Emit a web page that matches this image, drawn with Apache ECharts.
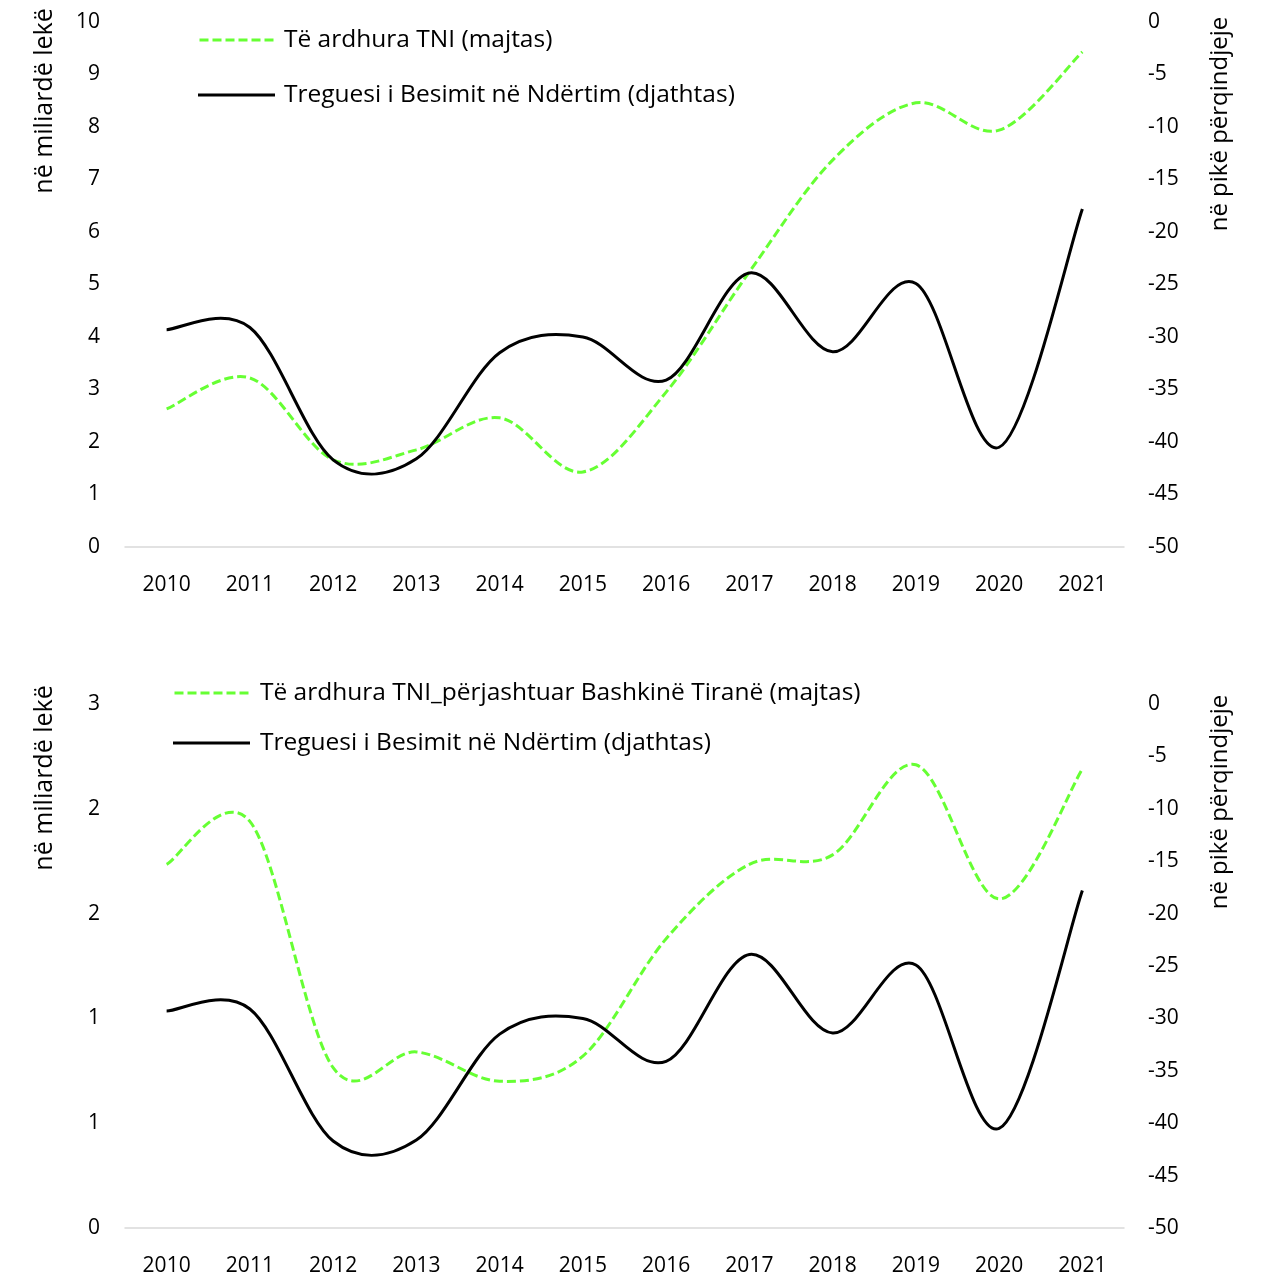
<!DOCTYPE html>
<html>
<head>
<meta charset="utf-8">
<script src="https://cdn.jsdelivr.net/npm/echarts@6/dist/echarts.min.js"></script>
<style>html,body{margin:0;padding:0;background:#fff;}#c{width:1264px;height:1279px;}</style>
</head>
<body>
<div id="c"></div>
<script>
const years = ['2010','2011','2012','2013','2014','2015','2016','2017','2018','2019','2020','2021'];
const tniTotal = [2.63, 3.22, 1.66, 1.85, 2.46, 1.43, 2.95, 5.24, 7.37, 8.46, 7.94, 9.43];
const tniExTirana = [1.735, 1.94, 0.765, 0.84, 0.70, 0.82, 1.38, 1.735, 1.78, 2.21, 1.57, 2.19];
const tbn = [-29.3, -29.1, -41.7, -41.6, -31.5, -30.0, -34.1, -23.9, -31.4, -24.9, -40.5, -17.8];
const nameTotal = 'Të ardhura TNI (majtas)';
const nameEx = 'Të ardhura TNI_përjashtuar Bashkinë Tiranë (majtas)';
const nameTbn = 'Treguesi i Besimit në Ndërtim (djathtas)';
const leftTitle = 'në miliardë lekë';
const rightTitle = 'në pikë përqindjeje';

const FONT = '"Open Sans"';
const GREEN = '#66ff33';
const chart = echarts.init(document.getElementById('c'));
const lbl = {color:'#000', fontSize:21, fontFamily:FONT};
function xAxis(gi){return {type:'category', gridIndex:gi, data:years, boundaryGap:true,
  axisLine:{lineStyle:{color:'#d9d9d9', width:1.5}}, axisTick:{show:false},
  axisLabel:Object.assign({margin:28}, lbl)};}
function yAxisL(gi,max,interval,fmt){return {type:'value', gridIndex:gi, min:0, max:max, interval:interval,
  position:'left', splitLine:{show:false}, axisLine:{show:false}, axisTick:{show:false},
  axisLabel:Object.assign({margin:25, formatter:fmt}, lbl)};}
function yAxisR(gi){return {type:'value', gridIndex:gi, min:-50, max:0, interval:5, position:'right',
  splitLine:{show:false}, axisLine:{show:false}, axisTick:{show:false},
  axisLabel:Object.assign({margin:24}, lbl)};}

// Catmull-Rom style spline through the data points, mapped via the axes (api.coord)
function splineSeries(name, arr, xi, yi, color, dash, z){
  return {
    name:name, type:'custom', xAxisIndex:xi, yAxisIndex:yi, z:z,
    itemStyle:{color:color},
    data:arr.map((v,i)=>[i, v]), encode:{x:0, y:1},
    renderItem:function(params, api){
      if (params.dataIndex !== 0) return null;
      const p = arr.map((v,i)=>api.coord([i, v]));
      const n = p.length, k = 1/6;
      let d = 'M' + p[0][0] + ' ' + p[0][1];
      for (let i=0;i<n-1;i++){
        const p0 = p[Math.max(i-1,0)], p1 = p[i], p2 = p[i+1], p3 = p[Math.min(i+2,n-1)];
        const c1x = p1[0] + (p2[0]-p0[0])*k, c1y = p1[1] + (p2[1]-p0[1])*k;
        const c2x = p2[0] - (p3[0]-p1[0])*k, c2y = p2[1] - (p3[1]-p1[1])*k;
        d += ' C' + c1x + ' ' + c1y + ' ' + c2x + ' ' + c2y + ' ' + p2[0] + ' ' + p2[1];
      }
      return {type:'path', shape:{pathData:d}, style:{stroke:color, lineWidth:3, fill:null, lineDash:dash}};
    }
  };
}
function dashIcon(){let s='path://';for(let x=0;x<77;x+=13){s+='M'+x+',0 h9 v3 h-9 Z ';}return s;}
const solidIcon = 'path://M0,0 h77 v3 h-77 Z';
const legendText = {color:'#000', fontSize:24.5, fontFamily:FONT, lineHeight:26, padding:[0,0,0,3]};
const option = {
  backgroundColor:'#fff',
  animation:false,
  grid:[{left:125, right:140, top:22, height:525},{left:125, right:140, top:704, height:524}],
  xAxis:[xAxis(0), xAxis(1)],
  yAxis:[yAxisL(0,10,1,null), yAxisR(0), yAxisL(1,2.5,0.5,v=>String(Math.round(v))), yAxisR(1)],
  legend:[
    {orient:'vertical', left:198, top:27, padding:0, itemWidth:79, itemHeight:3, itemGap:29, textStyle:legendText,
     data:[{name:nameTotal, icon:dashIcon()}, {name:nameTbn, icon:solidIcon}]},
    {orient:'vertical', left:173, top:680, padding:0, itemWidth:81, itemHeight:3, itemGap:24, textStyle:legendText,
     data:[{name:nameEx, icon:dashIcon()}, {name:nameTbn+' ', icon:solidIcon}]}
  ],
  series:[
    splineSeries(nameTotal, tniTotal, 0, 0, GREEN, [9,4], 2),
    splineSeries(nameTbn, tbn, 0, 1, '#000', null, 3),
    splineSeries(nameEx, tniExTirana, 1, 2, GREEN, [9,4], 2),
    splineSeries(nameTbn+' ', tbn, 1, 3, '#000', null, 3)
  ],
  graphic:[
    {type:'text', x:45, y:101, rotation:Math.PI/2, style:{text:leftTitle, fill:'#000', font:'25px '+FONT, align:'center', verticalAlign:'middle'}},
    {type:'text', x:1220, y:124, rotation:Math.PI/2, style:{text:rightTitle, fill:'#000', font:'24px '+FONT, align:'center', verticalAlign:'middle'}},
    {type:'text', x:45, y:778, rotation:Math.PI/2, style:{text:leftTitle, fill:'#000', font:'25px '+FONT, align:'center', verticalAlign:'middle'}},
    {type:'text', x:1220, y:802, rotation:Math.PI/2, style:{text:rightTitle, fill:'#000', font:'24px '+FONT, align:'center', verticalAlign:'middle'}}
  ]
};
chart.setOption(option);
</script>
</body>
</html>
